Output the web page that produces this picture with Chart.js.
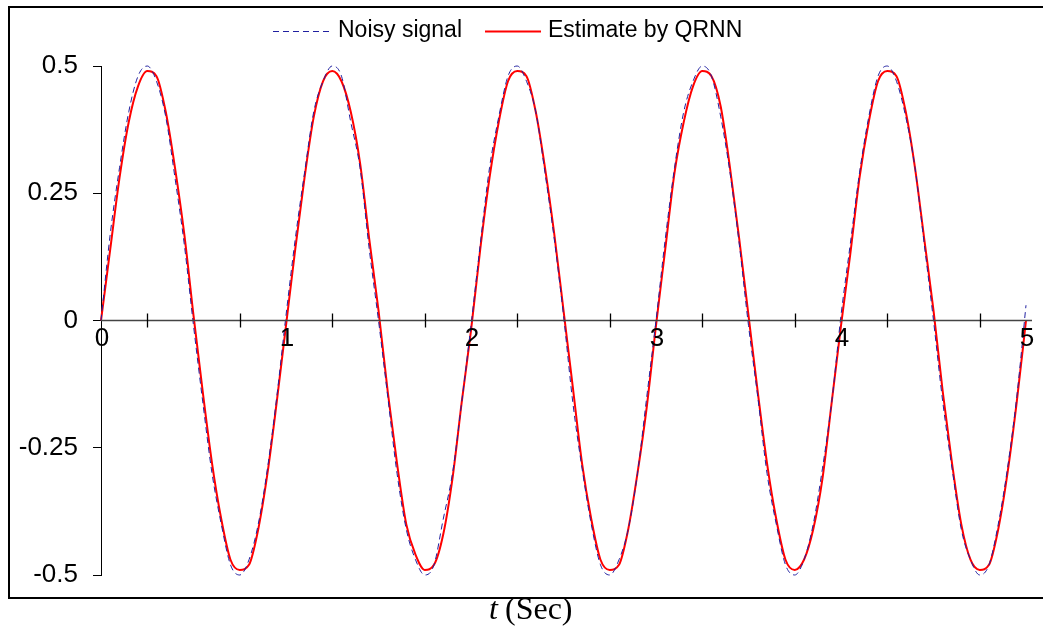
<!DOCTYPE html>
<html>
<head>
<meta charset="utf-8">
<script src="https://cdn.jsdelivr.net/npm/chart.js@4"></script>
<style>
  html, body { margin: 0; padding: 0; background: #fff; }
</style>
</head>
<body>
<canvas id="chart" width="1043" height="635"></canvas>
<script>
// Время, с
const tSec = [
  0, 0.05, 0.1, 0.15, 0.2, 0.25, 0.3, 0.35, 0.4, 0.45, 0.5, 0.55, 0.6, 0.65, 0.7, 0.75, 0.8, 0.85, 0.9, 0.95,
  1, 1.05, 1.1, 1.15, 1.2, 1.25, 1.3, 1.35, 1.4, 1.45, 1.5, 1.55, 1.6, 1.65, 1.7, 1.75, 1.8, 1.85, 1.9, 1.95,
  2, 2.05, 2.1, 2.15, 2.2, 2.25, 2.3, 2.35, 2.4, 2.45, 2.5, 2.55, 2.6, 2.65, 2.7, 2.75, 2.8, 2.85, 2.9, 2.95,
  3, 3.05, 3.1, 3.15, 3.2, 3.25, 3.3, 3.35, 3.4, 3.45, 3.5, 3.55, 3.6, 3.65, 3.7, 3.75, 3.8, 3.85, 3.9, 3.95,
  4, 4.05, 4.1, 4.15, 4.2, 4.25, 4.3, 4.35, 4.4, 4.45, 4.5, 4.55, 4.6, 4.65, 4.7, 4.75, 4.8, 4.85, 4.9, 4.95,
  5
];

// Зашумлённый сигнал (синяя пунктирная)
const noisySignal = [
  0, 0.17, 0.30, 0.41, 0.48, 0.50, 0.47, 0.40, 0.28, 0.15, -0.01, -0.16, -0.30, -0.40, -0.48, -0.50, -0.47, -0.40, -0.29, -0.15,
  0.01, 0.16, 0.29, 0.41, 0.47, 0.50, 0.48, 0.39, 0.30, 0.14, 0.00, -0.15, -0.30, -0.41, -0.47, -0.50, -0.48, -0.39, -0.30, -0.16,
  -0.01, 0.15, 0.30, 0.40, 0.48, 0.50, 0.47, 0.41, 0.29, 0.16, 0.01, -0.16, -0.29, -0.40, -0.48, -0.50, -0.47, -0.41, -0.30, -0.15,
  0.00, 0.16, 0.30, 0.41, 0.47, 0.50, 0.48, 0.40, 0.29, 0.15, -0.01, -0.15, -0.30, -0.40, -0.48, -0.50, -0.47, -0.40, -0.29, -0.16,
  0.01, 0.15, 0.29, 0.40, 0.48, 0.50, 0.47, 0.40, 0.30, 0.15, 0.00, -0.16, -0.29, -0.41, -0.47, -0.50, -0.48, -0.40, -0.29, -0.15,
  0.03
];

// Оценка QRNN (красная сплошная)
const qrnnEstimate = [
  0.00, 0.14, 0.28, 0.39, 0.46, 0.49, 0.48, 0.41, 0.30, 0.17, 0.01, -0.14, -0.28, -0.39, -0.47, -0.49, -0.48, -0.41, -0.30, -0.16,
  -0.01, 0.14, 0.28, 0.40, 0.47, 0.49, 0.47, 0.41, 0.31, 0.16, 0.02, -0.14, -0.28, -0.40, -0.46, -0.49, -0.48, -0.42, -0.31, -0.16,
  -0.02, 0.14, 0.28, 0.39, 0.47, 0.49, 0.48, 0.41, 0.30, 0.17, 0.02, -0.13, -0.28, -0.39, -0.47, -0.49, -0.48, -0.41, -0.30, -0.17,
  -0.01, 0.14, 0.29, 0.39, 0.46, 0.49, 0.48, 0.42, 0.30, 0.16, 0.01, -0.14, -0.28, -0.39, -0.47, -0.49, -0.47, -0.41, -0.31, -0.16,
  -0.01, 0.13, 0.28, 0.39, 0.47, 0.49, 0.48, 0.41, 0.30, 0.16, 0.02, -0.14, -0.28, -0.40, -0.47, -0.49, -0.48, -0.41, -0.30, -0.16,
  0.00
];

// Подписи и засечки оси X
const xTickLabels = [0, 1, 2, 3, 4, 5];
const xTickMarks = [0.25, 0.75, 1.25, 1.75, 2.25, 2.75, 3.25, 3.75, 4.25, 4.75];
const yTicks = [0.5, 0.25, 0, -0.25, -0.5];

const seriesNames = ['Noisy signal', 'Estimate by QRNN'];

// Рамка, ось X на нуле, легенда и подпись оси
const decorPlugin = {
    id: 'decor',
    afterDraw(chart) {
        const ctx = chart.ctx;
        const x = chart.scales.x;
        const y = chart.scales.y;
        const y0 = y.getPixelForValue(0);

        ctx.save();
        // рамка (без правой стороны)
        ctx.strokeStyle = '#000';
        ctx.lineWidth = 2;
        ctx.beginPath();
        ctx.moveTo(1043, 7);
        ctx.lineTo(9, 7);
        ctx.lineTo(9, 598);
        ctx.lineTo(1043, 598);
        ctx.stroke();

        // ось X
        ctx.strokeStyle = '#444';
        ctx.lineWidth = 1.3;
        ctx.beginPath();
        ctx.moveTo(chart.chartArea.left, y0);
        ctx.lineTo(chart.chartArea.right + 6, y0);
        ctx.stroke();
        ctx.strokeStyle = '#000';
        ctx.beginPath();
        xTickMarks.forEach(v => {
            const px = Math.round(x.getPixelForValue(v)) + 0.5;
            ctx.moveTo(px, y0 - 7);
            ctx.lineTo(px, y0 + 7);
        });
        ctx.stroke();

        ctx.fillStyle = '#000';
        ctx.font = '26px "Liberation Sans", Arial, sans-serif';
        ctx.textAlign = 'center';
        ctx.textBaseline = 'middle';
        xTickLabels.forEach(v => {
            ctx.fillText(String(v), x.getPixelForValue(v) + 1, y0 + 18);
        });

        // легенда
        const ds = chart.data.datasets;
        ctx.font = '23px "Liberation Sans", Arial, sans-serif';
        ctx.textAlign = 'left';
        const legendY = 31;
        const items = [
            { x1: 273, x2: 330, tx: 338 },
            { x1: 485, x2: 541, tx: 548 }
        ];
        items.forEach((it, i) => {
            ctx.strokeStyle = ds[i].borderColor;
            ctx.lineWidth = ds[i].borderWidth;
            ctx.setLineDash(ds[i].borderDash || []);
            ctx.beginPath();
            ctx.moveTo(it.x1, legendY + 0.5);
            ctx.lineTo(it.x2, legendY + 0.5);
            ctx.stroke();
            ctx.setLineDash([]);
            ctx.fillStyle = '#000';
            ctx.fillText(seriesNames[i], it.tx, legendY);
        });

        // подпись оси X
        ctx.textBaseline = 'alphabetic';
        ctx.font = 'italic 32px "Liberation Serif", "Times New Roman", serif';
        ctx.fillText('t', 489, 619);
        ctx.font = '32px "Liberation Serif", "Times New Roman", serif';
        ctx.fillText('(Sec)', 505, 619);
        ctx.restore();
    }
};

const toPoints = vals => vals.map((v, i) => ({ x: tSec[i], y: v }));

new Chart(document.getElementById('chart'), {
    type: 'line',
    data: {
        datasets: [
            {
                label: seriesNames[0],
                data: toPoints(noisySignal),
                borderColor: '#2020a0',
                borderWidth: 1,
                borderDash: [6, 4],
                pointRadius: 0,
                cubicInterpolationMode: 'monotone',
                clip: false
            },
            {
                label: seriesNames[1],
                data: toPoints(qrnnEstimate),
                borderColor: '#ff0000',
                borderWidth: 2,
                pointRadius: 0,
                cubicInterpolationMode: 'monotone',
                clip: false
            }
        ]
    },
    options: {
        responsive: false,
        animation: false,
        layout: {
            padding: { left: 9, right: 17, top: 66, bottom: 60 }
        },
        plugins: {
            legend: { display: false },
            tooltip: { enabled: false }
        },
        scales: {
            x: {
                type: 'linear',
                min: 0,
                max: 5,
                display: false
            },
            y: {
                min: -0.5,
                max: 0.5,
                afterFit: scale => { scale.width = 92; },
                afterBuildTicks: scale => {
                    scale.ticks = yTicks.map(v => ({ value: v }));
                },
                grid: {
                    drawOnChartArea: false,
                    drawTicks: true,
                    tickLength: 8,
                    tickColor: '#000',
                    tickWidth: 1
                },
                border: { display: true, color: '#000', width: 1 },
                ticks: {
                    padding: 15,
                    color: '#000',
                    font: { family: '"Liberation Sans", Arial, sans-serif', size: 26 },
                    callback: v => String(v)
                }
            }
        }
    },
    plugins: [decorPlugin]
});
</script>
</body>
</html>
